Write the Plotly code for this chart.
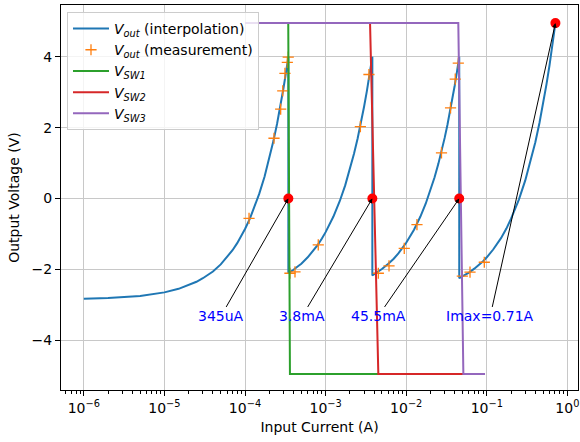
import numpy as np
import plotly.graph_objects as go

# Interpolated output voltage over the full input-current sweep (A, V),
# including the vertical jumps at each range switch.
interp_current = [
    1e-6, 2e-6, 5e-6, 1e-5, 1.5e-5, 2e-5, 2.5e-5, 3e-5, 4e-5, 5e-5, 6e-5, 7e-5,
    8e-5, 9e-5, 1e-4, 1.15e-4, 1.3e-4, 1.5e-4, 1.75e-4, 2e-4, 2.25e-4, 2.5e-4,
    2.75e-4, 3e-4, 3.25e-4, 3.45e-4,
    3.45e-4, 3.75e-4, 4e-4, 4.5e-4, 5e-4, 6e-4, 7e-4, 8e-4, 9e-4, 1e-3, 1.25e-3,
    1.5e-3, 1.75e-3, 2e-3, 2.25e-3, 2.5e-3, 2.75e-3, 3e-3, 3.25e-3, 3.5e-3, 3.8e-3,
    3.8e-3, 4.25e-3, 5e-3, 6e-3, 7e-3, 8e-3, 9e-3, 1e-2, 1.25e-2, 1.5e-2, 1.75e-2,
    2e-2, 2.25e-2, 2.5e-2, 2.75e-2, 3e-2, 3.25e-2, 3.5e-2, 3.75e-2, 4e-2, 4.25e-2,
    4.55e-2,
    4.55e-2, 5e-2, 5.5e-2, 6e-2, 7e-2, 8e-2, 9e-2, 0.1, 0.12, 0.15, 0.175, 0.2,
    0.25, 0.3, 0.35, 0.4, 0.45, 0.5, 0.55, 0.6, 0.65, 0.71,
]
interp_voltage = [
    -2.83, -2.81, -2.75, -2.65, -2.55, -2.45, -2.35, -2.25, -2.06, -1.86, -1.66, -1.46,
    -1.26, -1.06, -0.86, -0.57, -0.27, 0.13, 0.62, 1.12, 1.62, 2.11,
    2.61, 3.11, 3.60, 4.00,
    -2.11, -2.06, -2.01, -1.92, -1.84, -1.66, -1.48, -1.31, -1.13, -0.95, -0.51,
    -0.07, 0.37, 0.82, 1.26, 1.70, 2.14, 2.59, 3.03, 3.47, 4.00,
    -2.17, -2.10, -1.99, -1.84, -1.70, -1.55, -1.40, -1.25, -0.88, -0.51, -0.14,
    0.23, 0.60, 0.97, 1.34, 1.71, 2.08, 2.45, 2.82, 3.19, 3.56,
    4.00,
    -2.25, -2.20, -2.15, -2.09, -1.98, -1.88, -1.77, -1.66, -1.44, -1.12, -0.85, -0.57,
    -0.03, 0.51, 1.05, 1.59, 2.13, 2.68, 3.22, 3.76, 4.30, 4.95,
]

# Measured output voltage
meas_current = [
    1.122e-4, 2.29e-4, 2.77e-4, 2.94e-4, 3.13e-4, 3.35e-4, 3.44e-4,
    3.61e-4, 4.17e-4, 8.11e-4, 2.70e-3, 3.45e-3,
    4.51e-3, 6.12e-3, 9.46e-3, 1.36e-2, 2.74e-2, 3.55e-2, 4.06e-2, 4.43e-2,
    4.97e-2, 6.19e-2, 9.31e-2,
]
meas_voltage = [
    -0.56, 1.70, 2.52, 3.04, 3.53, 3.84, 3.99,
    -2.11, -2.07, -1.31, 2.03, 3.50,
    -2.11, -1.90, -1.41, -0.74, 1.29, 2.56, 3.37, 3.82,
    -2.19, -2.08, -1.80,
]

# Range-switch control signals
sw1_current = [1e-4, 3.44e-4, 3.61e-4, 0.095]
sw1_voltage = [4.95, 4.95, -4.95, -4.95]
sw2_current = [1e-4, 3.56e-3, 4.51e-3, 0.095]
sw2_voltage = [4.95, 4.95, -4.95, -4.95]
sw3_current = [1e-4, 4.43e-2, 5.12e-2, 0.095]
sw3_voltage = [4.95, 4.95, -4.95, -4.95]

# Switching thresholds and full-scale point
switch_current = [3.45e-4, 3.8e-3, 4.55e-2, 0.71]
switch_voltage = [0.0, 0.0, 0.0, 4.95]
switch_labels = ["345uA", "3.8mA", "45.5mA", "Imax=0.71A"]

x_tick_vals = [1e-6, 1e-5, 1e-4, 1e-3, 1e-2, 1e-1, 1e0]
x_tick_text = ["10<sup>−6</sup>", "10<sup>−5</sup>", "10<sup>−4</sup>",
               "10<sup>−3</sup>", "10<sup>−2</sup>", "10<sup>−1</sup>",
               "10<sup>0</sup>"]
y_tick_vals = [-4, -2, 0, 2, 4]
y_tick_text = ["−4", "−2", "0", "2", "4"]

# where the threshold labels sit
label_x = [5.0e-5, 5.1e-4, 4.47e-3, 0.11]
label_y = -3.33

BLUE, ORANGE, GREEN, RED, PURPLE = "#1f77b4", "#ff7f0e", "#2ca02c", "#d62728", "#9467bd"
FONT = "DejaVu Sans"

fig = go.Figure()
fig.add_trace(go.Scatter(
    x=interp_current, y=interp_voltage, mode="lines",
    line=dict(color=BLUE, width=2),
    name="<i>V</i><sub><i>out</i></sub> (interpolation)"))
fig.add_trace(go.Scatter(
    x=meas_current, y=meas_voltage, mode="markers",
    marker=dict(symbol="cross-thin", size=8, color=ORANGE,
                line=dict(color=ORANGE, width=1.3)),
    name="<i>V</i><sub><i>out</i></sub> (measurement)"))
for xs, ys, col, nm in [(sw1_current, sw1_voltage, GREEN, "<i>V</i><sub><i>SW1</i></sub>"),
                        (sw2_current, sw2_voltage, RED, "<i>V</i><sub><i>SW2</i></sub>"),
                        (sw3_current, sw3_voltage, PURPLE, "<i>V</i><sub><i>SW3</i></sub>")]:
    fig.add_trace(go.Scatter(x=xs, y=ys, mode="lines",
                             line=dict(color=col, width=2), name=nm))
fig.add_trace(go.Scatter(
    x=switch_current, y=switch_voltage, mode="markers",
    marker=dict(color="red", size=10), showlegend=False))

for xc, yc, lab, lx in zip(switch_current, switch_voltage, switch_labels, label_x):
    fig.add_annotation(
        x=np.log10(xc), y=yc, ax=np.log10(lx), ay=label_y,
        xref="x", yref="y", axref="x", ayref="y",
        text=lab, showarrow=True, arrowhead=2, arrowsize=0.9, arrowwidth=1,
        arrowcolor="black", standoff=0,
        font=dict(family=FONT, size=14, color="blue"))

minor_vals = [m * 10.0 ** k for k in range(-7, 1) for m in range(2, 10)]

fig.update_xaxes(
    type="log", range=[-6.283, 0.1315],
    tickvals=x_tick_vals, ticktext=x_tick_text,
    ticks="outside", ticklen=5, tickwidth=1, tickcolor="black",
    minor=dict(tickvals=minor_vals, ticks="outside", ticklen=3, tickwidth=1,
               tickcolor="black", showgrid=False),
    showgrid=True, gridcolor="#c8c8c8", gridwidth=1,
    showline=True, linecolor="black", linewidth=1, mirror=True,
    zeroline=False,
    title=dict(text="Input Current (A)", font=dict(family=FONT, size=14, color="black"),
               standoff=7),
    tickfont=dict(family=FONT, size=14, color="black"))
fig.update_yaxes(
    range=[-5.405, 5.461],
    tickvals=y_tick_vals, ticktext=y_tick_text,
    ticks="outside", ticklen=5, tickwidth=1, tickcolor="black",
    showgrid=True, gridcolor="#c8c8c8", gridwidth=1,
    showline=True, linecolor="black", linewidth=1, mirror=True,
    zeroline=False,
    title=dict(text="Output Voltage (V)", font=dict(family=FONT, size=14, color="black"),
               standoff=8),
    tickfont=dict(family=FONT, size=14, color="black"))

fig.update_layout(
    width=580, height=442,
    margin=dict(l=61, r=2, t=5, b=52),
    plot_bgcolor="white", paper_bgcolor="white",
    font=dict(family=FONT, size=14, color="black"),
    legend=dict(x=0.0116, y=0.982, xanchor="left", yanchor="top",
                itemwidth=36,
                bgcolor="rgba(255,255,255,0.8)", bordercolor="#cccccc", borderwidth=1,
                font=dict(family=FONT, size=14, color="black")),
)

fig.write_html("out.html")
